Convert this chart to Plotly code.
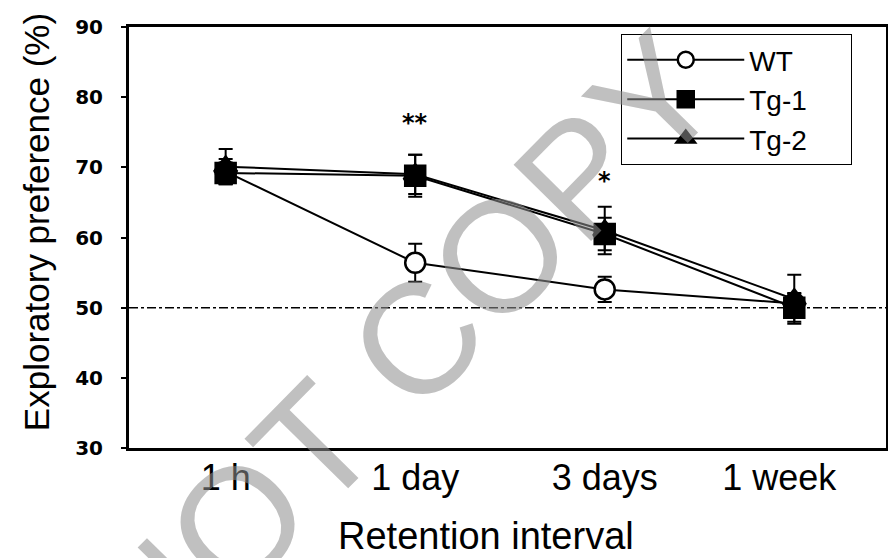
import plotly.graph_objects as go

# ---- data ----
intervals = ["1 h", "1 day", "3 days", "1 week\u00a0\u00a0\u00a0"]
x_pos = [0, 1, 2, 3]

wt_mean = [69.4, 56.4, 52.6, 50.6]
wt_err = [1.8, 2.7, 1.8, 1.5]

tg1_mean = [69.2, 68.8, 60.5, 50.0]
tg1_err = [1.5, 3.0, 2.3, 2.0]

tg2_mean = [70.1, 69.0, 61.0, 51.2]
tg2_err = [2.5, 2.8, 3.4, 3.5]

sig_x = [1, 2]
sig_y = [76.3, 68.1]
sig_text = ["**", "*"]

chance_level = 50
y_ticks = [30, 40, 50, 60, 70, 80, 90]

legend_pad = "\u00a0" * 5

# ---- figure ----
fig = go.Figure()

def add_series(name, y, err, symbol, fill, rank):
    fig.add_trace(go.Scatter(
        x=x_pos, y=y, name=name + legend_pad, mode="lines+markers",
        line=dict(color="black", width=2),
        marker=dict(symbol=symbol, size=20, color=fill,
                    line=dict(color="black", width=2.5)),
        error_y=dict(type="data", array=err, visible=True,
                     color="black", thickness=2, width=7),
        legendrank=rank,
    ))

add_series("WT", wt_mean, wt_err, "circle", "white", 1)
add_series("Tg-2", tg2_mean, tg2_err, "triangle-up", "black", 3)
add_series("Tg-1", tg1_mean, tg1_err, "square", "black", 2)

# chance line
fig.add_shape(type="line", xref="paper", x0=0, x1=1, yref="y",
              y0=chance_level, y1=chance_level,
              line=dict(color="black", width=1.5, dash="dashdot"),
              layer="below")

# significance markers
for sx, sy, st in zip(sig_x, sig_y, sig_text):
    fig.add_annotation(x=sx, y=sy, text=st, showarrow=False,
                       font=dict(family="DejaVu Sans", size=24, color="black",
                                 weight="bold"),
                       xanchor="center", yanchor="middle")

# axis titles
fig.add_annotation(xref="paper", yref="paper", x=(36 - 129) / 760,
                   y=(448 - 218) / 428, text="Exploratory preference (%)",
                   textangle=-90, showarrow=False,
                   font=dict(family="Liberation Sans", size=35, color="black"),
                   xanchor="center", yanchor="middle")
fig.add_annotation(xref="paper", yref="paper", x=(487 - 129) / 760,
                   y=(448 - 537) / 428, text="Retention interval",
                   showarrow=False,
                   font=dict(family="Liberation Sans", size=38, color="black"),
                   xanchor="center", yanchor="middle")

# watermark
fig.add_annotation(xref="paper", yref="paper", x=(403 - 129) / 760,
                   y=(448 - 353) / 428, text="NOT COPY", showarrow=False,
                   textangle=-45.5,
                   font=dict(family="Liberation Sans", size=158,
                             color="rgba(143,143,143,0.56)"),
                   xanchor="center", yanchor="middle")

fig.update_layout(
    width=888, height=550,
    margin=dict(l=121, r=7, t=12, b=110),
    paper_bgcolor="white", plot_bgcolor="white",
    showlegend=True,
    legend=dict(x=(623 - 129) / 760, y=(448 - 27) / 428,
                xanchor="left", yanchor="top",
                bgcolor="white", bordercolor="black", borderwidth=1.2,
                font=dict(family="Liberation Sans", size=28, color="black"),
                itemwidth=117),
)

fig.update_xaxes(range=[-0.51, 3.484], tickvals=x_pos, ticktext=intervals,
                 showgrid=False, zeroline=False, showline=True,
                 linecolor="black", linewidth=3, mirror=True, ticks="",
                 tickfont=dict(family="Liberation Sans", size=36, color="black"),
                 ticklabelstandoff=-4)
fig.update_yaxes(range=[30, 90], tickvals=y_ticks,
                 showgrid=False, zeroline=False, showline=True,
                 linecolor="black", linewidth=3, mirror=True,
                 ticks="outside", ticklen=5, tickwidth=1.5, tickcolor="black",
                 tickfont=dict(family="DejaVu Sans", size=20, color="black",
                               weight="bold"),
                 ticklabelstandoff=14)

fig.write_html("out.html")
